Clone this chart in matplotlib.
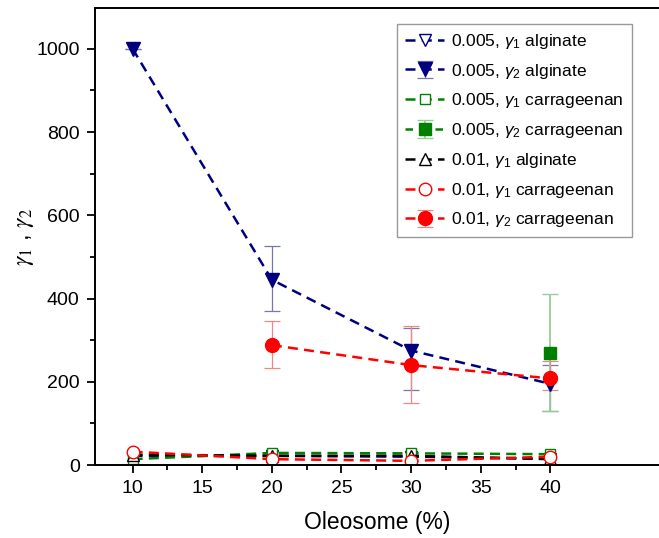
import numpy as np
import matplotlib.pyplot as plt
from matplotlib.ticker import FixedLocator

plt.rcParams['font.family'] = ['Liberation Sans', 'DejaVu Sans']
plt.rcParams['mathtext.fontset'] = 'custom'
plt.rcParams['mathtext.rm'] = 'Liberation Sans'
plt.rcParams['mathtext.it'] = 'Liberation Sans:italic'

# Oleosome content (%)
oleosome = [10, 20, 30, 40]

# gamma values
g1_alg_005 = [22, 22, 20, 15]
g2_alg_005 = [1000, 445, 275, 195]
g2_alg_005_err_lo = [0, 75, 95, 65]
g2_alg_005_err_hi = [0, 80, 55, 45]

g1_car_005 = [14, 29, 28, 26]
g2_car_005 = [270]
g2_car_005_x = [40]
g2_car_005_err_lo = [140]
g2_car_005_err_hi = [142]

g1_alg_01 = [25, 22, 22, 14]

g1_car_01 = [32, 14, 10, 20]
g2_car_01_x = [20, 30, 40]
g2_car_01 = [288, 240, 208]
g2_car_01_err_lo = [56, 92, 28]
g2_car_01_err_hi = [57, 95, 42]

x_major = [10, 15, 20, 25, 30, 35, 40]
x_minor = [12.5, 17.5, 22.5, 27.5, 32.5, 37.5]

navy = '#00007f'
green = '#008000'
red = '#ff0000'

fig = plt.figure(figsize=(6.59, 5.38), dpi=100)
ax = fig.add_axes([95 / 659, 1 - 465 / 538, 1 - 95 / 659, (465 - 8) / 538])

ls = (0, (4, 2.5))
ms = 9
lw = 1.8

h1, = ax.plot(oleosome, g1_alg_005, color=navy, ls=ls, lw=lw, marker='v', ms=ms,
              mfc='white', mec=navy, label=r'0.005, $\gamma_1$ alginate')
h2 = ax.errorbar(oleosome, g2_alg_005, yerr=[g2_alg_005_err_lo, g2_alg_005_err_hi],
                 color=navy, ls=ls, lw=lw, marker='v', ms=ms + 1, mfc=navy, mec=navy,
                 ecolor='#7777aa', elinewidth=0.9, capsize=6, capthick=0.9,
                 label=r'0.005, $\gamma_2$ alginate')
h3, = ax.plot(oleosome, g1_car_005, color=green, ls=ls, lw=lw, marker='s', ms=7,
              mfc='white', mec=green, label=r'0.005, $\gamma_1$ carrageenan')
h4 = ax.errorbar(g2_car_005_x, g2_car_005, yerr=[g2_car_005_err_lo, g2_car_005_err_hi],
                 color=green, ls=(0, (3, 3)), lw=lw, marker='s', ms=8, mfc=green, mec=green,
                 ecolor='#99cc99', elinewidth=1.3, capsize=6, capthick=1.0,
                 label=r'0.005, $\gamma_2$ carrageenan')
h5, = ax.plot(oleosome, g1_alg_01, color='black', ls=ls, lw=lw, marker='^', ms=ms,
              mfc='white', mec='black', label=r'0.01, $\gamma_1$ alginate')
h6, = ax.plot(oleosome, g1_car_01, color=red, ls=ls, lw=lw, marker='o', ms=ms,
              mfc='white', mec=red, label=r'0.01, $\gamma_1$ carrageenan')
h7 = ax.errorbar(g2_car_01_x, g2_car_01, yerr=[g2_car_01_err_lo, g2_car_01_err_hi],
                 color=red, ls=ls, lw=lw, marker='o', ms=ms + 1, mfc=red, mec=red,
                 ecolor='#ee8888', elinewidth=0.9, capsize=6, capthick=0.9,
                 label=r'0.01, $\gamma_2$ carrageenan')

ax.set_xlim(7.3, 47.8)
ax.set_ylim(0, 1098)
ax.xaxis.set_major_locator(FixedLocator(x_major))
ax.xaxis.set_minor_locator(FixedLocator(x_minor))
ax.set_yticks(range(0, 1001, 200))
ax.set_yticks(range(100, 1001, 200), minor=True)
ax.tick_params(which='major', direction='out', length=6, width=1.3, labelsize=14, pad=5)
ax.tick_params(which='minor', direction='out', length=3.5, width=1.3)
for s in ['left', 'bottom', 'top']:
    ax.spines[s].set_linewidth(1.4)
ax.spines['right'].set_visible(False)

ax.set_xlabel('Oleosome (%)', fontsize=16.5, labelpad=10)
ax.set_ylabel(r'$\gamma_1$ , $\gamma_2$', fontsize=17, labelpad=0,
              math_fontfamily='stix')

handles = [h1, h2, h3, h4, h5, h6, h7]
leg = ax.legend(handles, [h.get_label() for h in handles],
                loc='upper left', bbox_to_anchor=(0.535, 0.965), fontsize=12.5,
                frameon=True, fancybox=False, edgecolor='#999999',
                handlelength=2.3, handletextpad=0.4, labelspacing=0.62,
                borderpad=0.45, borderaxespad=0, framealpha=1)
leg.get_frame().set_linewidth(1.0)

fig.savefig('out.png', dpi=100)
